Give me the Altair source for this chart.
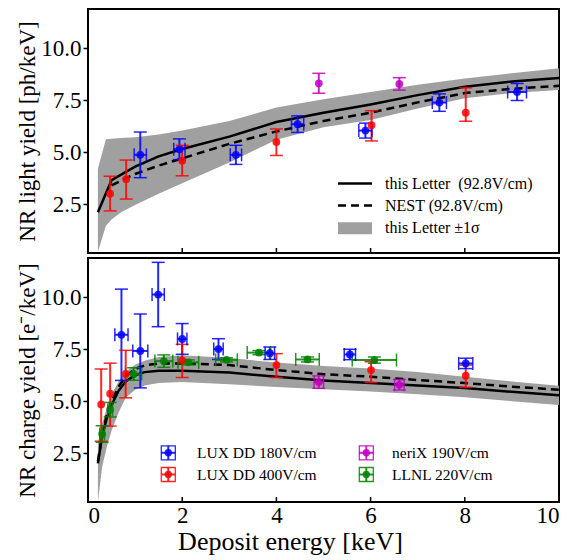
import altair as alt
import pandas as pd

FONT = "Liberation Serif"
W, H = 471, 244

SERIES = ["LUX DD 180V/cm", "LUX DD 400V/cm", "neriX 190V/cm", "LLNL 220V/cm"]
COLORS = ["#0000ff", "#ff0000", "#bf00bf", "#008000"]

# ---------------- top panel: light yield ----------------
top_line_x = [0.21, 0.5, 1.0, 1.5, 2, 3, 4, 5, 6, 7, 8, 9, 10]
top_line_y = [2.1, 3.65, 4.3, 4.8, 5.15, 5.75, 6.45, 6.9, 7.3, 7.75, 8.15, 8.4, 8.57]
top_nest_x = [0.5, 1.0, 1.5, 2, 3, 4, 5, 6, 7, 8, 9, 10]
top_nest_y = [3.4, 3.95, 4.35, 4.7, 5.4, 6.0, 6.5, 6.9, 7.4, 7.85, 8.05, 8.2]
top_band_x = [0.21, 0.38, 0.5, 0.7, 1, 1.5, 2, 3, 4, 5, 6, 7, 8, 9, 10]
top_band_hi = [4.2, 5.62, 5.65, 5.68, 5.72, 5.85, 6.05, 6.5, 7.15, 7.55, 7.9, 8.25, 8.55, 8.8, 9.05]
top_band_lo = [0.2, 1.45, 1.75, 2.1, 2.45, 3.0, 3.5, 4.5, 5.6, 6.2, 6.55, 7.1, 7.6, 7.85, 8.0]

top_lux180_x = [1.11, 1.94, 3.14, 4.45, 5.89, 7.46, 9.11]
top_lux180_y = [4.87, 5.14, 4.87, 6.35, 6.04, 7.39, 7.90]
top_lux180_yerr = [1.1, 0.5, 0.46, 0.4, 0.36, 0.42, 0.41]
top_lux180_xerr = [0.13, 0.12, 0.12, 0.13, 0.14, 0.15, 0.2]

top_lux400_x = [0.47, 0.81, 2.0, 4.0, 6.02, 8.02]
top_lux400_y = [3.0, 3.70, 4.59, 5.49, 6.30, 6.90]
top_lux400_ylo = [2.17, 2.74, 3.86, 4.84, 5.54, 6.49]
top_lux400_yhi = [3.84, 4.62, 5.33, 6.12, 7.0, 8.1]

top_nerix_x = [4.9, 6.61]
top_nerix_y = [8.32, 8.29]
top_nerix_yerr = [0.48, 0.3]

# ---------------- bottom panel: charge yield ----------------
bot_line_x = [0.21, 0.3, 0.4, 0.5, 0.65, 0.8, 1.0, 1.2, 1.5, 2, 3, 4, 5, 6, 7, 8, 9, 10]
bot_line_y = [2.0, 3.3, 4.2, 4.8, 5.5, 5.95, 6.25, 6.4, 6.47, 6.47, 6.38, 6.18, 6.0, 5.87, 5.75, 5.63, 5.45, 5.28]
bot_nest_y = [2.1, 3.4, 4.35, 5.0, 5.7, 6.2, 6.55, 6.72, 6.82, 6.82, 6.74, 6.5, 6.3, 6.18, 6.02, 5.87, 5.7, 5.55]
bot_band_hi = [3.0, 3.9, 4.7, 5.32, 5.95, 6.42, 6.75, 6.95, 7.13, 7.21, 7.08, 6.86, 6.7, 6.58, 6.4, 6.18, 5.95, 5.74]
bot_band_lo = [0.14, 1.83, 2.8, 3.57, 4.45, 5.16, 5.55, 5.75, 5.87, 5.92, 5.82, 5.68, 5.58, 5.47, 5.33, 5.19, 5.0, 4.81]

bot_lux180_x = [0.71, 1.11, 1.49, 2.0, 2.77, 3.86, 5.56, 8.02]
bot_lux180_y = [8.2, 7.42, 10.14, 8.0, 7.51, 7.31, 7.25, 6.82]
bot_lux180_yerr = [2.2, 1.78, 1.55, 0.74, 0.5, 0.3, 0.25, 0.25]
bot_lux180_xerr = [0.14, 0.16, 0.13, 0.1, 0.1, 0.1, 0.12, 0.15]

bot_lux400_x = [0.28, 0.47, 0.80, 2.0, 4.0, 6.01, 8.02]
bot_lux400_y = [4.84, 5.36, 6.31, 6.96, 6.74, 6.5, 6.23]
bot_lux400_ylo = [3.07, 3.8, 5.16, 6.14, 6.14, 5.9, 5.66]
bot_lux400_yhi = [6.55, 6.83, 7.45, 7.74, 7.29, 6.9, 6.74]

bot_nerix_x = [4.9, 6.61]
bot_nerix_y = [5.92, 5.79]
bot_nerix_yerr = [0.3, 0.25]
bot_nerix_xerr = [0.1, 0.1]

bot_llnl_x = [0.30, 0.47, 0.97, 1.61, 2.13, 2.94, 3.63, 4.66, 6.08]
bot_llnl_y = [3.42, 4.59, 6.31, 6.93, 6.87, 6.99, 7.34, 7.01, 6.98]
bot_llnl_yerr = [0.4, 0.35, 0.3, 0.3, 0.12, 0.1, 0.1, 0.12, 0.15]
bot_llnl_xerr = [0.05, 0.05, 0.17, 0.19, 0.22, 0.23, 0.25, 0.25, 0.47]

top_legend_labels = ["this Letter\u00a0 (92.8V/cm)", "NEST (92.8V/cm)", "this Letter \u00b11\u03c3"]
x_ticks = [0, 2, 4, 6, 8, 10]
y_ticks = [2.5, 5.0, 7.5, 10.0]
inner_ticks = [2, 4, 6, 8]
Y_DOMAIN = [0.14, 11.9]


def rows(series, xs, ys, ylo, yhi, xerr=None):
    out = []
    for i, x in enumerate(xs):
        xe = xerr[i] if xerr else 0.0
        out.append(dict(series=series, x=x, y=ys[i], ylo=ylo[i], yhi=yhi[i],
                        xlo=x - xe, xhi=x + xe))
    return out


def sym(ys, err):
    return [y - e for y, e in zip(ys, err)], [y + e for y, e in zip(ys, err)]


top_pts = []
lo, hi = sym(top_lux180_y, top_lux180_yerr)
top_pts += rows(SERIES[0], top_lux180_x, top_lux180_y, lo, hi, top_lux180_xerr)
top_pts += rows(SERIES[1], top_lux400_x, top_lux400_y, top_lux400_ylo, top_lux400_yhi)
lo, hi = sym(top_nerix_y, top_nerix_yerr)
top_pts += rows(SERIES[2], top_nerix_x, top_nerix_y, lo, hi)
top_pts = pd.DataFrame(top_pts)

bot_pts = []
lo, hi = sym(bot_lux180_y, bot_lux180_yerr)
bot_pts += rows(SERIES[0], bot_lux180_x, bot_lux180_y, lo, hi, bot_lux180_xerr)
bot_pts += rows(SERIES[1], bot_lux400_x, bot_lux400_y, bot_lux400_ylo, bot_lux400_yhi)
lo, hi = sym(bot_nerix_y, bot_nerix_yerr)
bot_pts += rows(SERIES[2], bot_nerix_x, bot_nerix_y, lo, hi, bot_nerix_xerr)
lo, hi = sym(bot_llnl_y, bot_llnl_yerr)
bot_pts += rows(SERIES[3], bot_llnl_x, bot_llnl_y, lo, hi, bot_llnl_xerr)
bot_pts = pd.DataFrame(bot_pts)

xscale = alt.Scale(domain=[0, 10], nice=False, zero=False)
yscale = alt.Scale(domain=Y_DOMAIN, nice=False, zero=False)
cscale = alt.Scale(domain=SERIES, range=COLORS)


def panel(pts, band_df, line_df, nest_df, ytitle, bottom):
    if bottom:
        xaxis = alt.Axis(values=x_ticks, format="d", ticks=False, tickSize=0, domain=False,
                         labelPadding=2, labelFont=FONT, labelFontSize=23,
                         title="Deposit energy [keV]", titleFont=FONT, titleX=202,
                         titleY=39, titleBaseline="middle", titleFontSize=26)
    else:
        xaxis = alt.Axis(labels=False, ticks=False, domain=False, title=None)
    yaxis = alt.Axis(values=y_ticks, format=".1f", tickSize=5, labelPadding=2, domain=False,
                     labelFont=FONT, labelFontSize=23,
                     title=ytitle, titleFont=FONT, titleX=-61, titleY=H / 2, titleAlign="center",
                     titleBaseline="middle", titleFontSize=23)
    X = lambda f: alt.X(f, type="quantitative", scale=xscale, axis=xaxis)
    Y = lambda f: alt.Y(f, type="quantitative", scale=yscale, axis=yaxis)

    band = alt.Chart(band_df).mark_area(color="#a0a0a0", clip=True).encode(
        x=X("x"), y=Y("lo"), y2="hi")
    solid = alt.Chart(line_df).mark_line(color="black", strokeWidth=2.5, clip=True).encode(
        x=X("x"), y=Y("y"))
    dashed = alt.Chart(nest_df).mark_line(color="black", strokeWidth=2.5, strokeDash=[8, 5],
                                          clip=True).encode(x=X("x"), y=Y("y"))
    ticks_in = alt.Chart(pd.DataFrame({"t": inner_ticks})).mark_rule(
        color="black", strokeWidth=1.5).encode(x=X("t"), y=alt.value(H - 5), y2=alt.value(H))

    col = alt.Color("series:N", scale=cscale, legend=None)
    base = alt.Chart(pts)
    op = 0.85
    yerr = base.mark_rule(strokeWidth=2, opacity=op).encode(x=X("x"), y=Y("ylo"), y2="yhi", color=col)
    ycap1 = base.mark_tick(orient="horizontal", size=13, thickness=1.5, opacity=op).encode(
        x=X("x"), y=Y("ylo"), color=col)
    ycap2 = base.mark_tick(orient="horizontal", size=13, thickness=1.5, opacity=op).encode(
        x=X("x"), y=Y("yhi"), color=col)
    xb = base.transform_filter("datum.xhi > datum.xlo")
    xerr = xb.mark_rule(strokeWidth=2, opacity=op).encode(x=X("xlo"), x2="xhi", y=Y("y"), color=col)
    xcap1 = xb.mark_tick(orient="vertical", size=13, thickness=1.5, opacity=op).encode(
        x=X("xlo"), y=Y("y"), color=col)
    xcap2 = xb.mark_tick(orient="vertical", size=13, thickness=1.5, opacity=op).encode(
        x=X("xhi"), y=Y("y"), color=col)
    dots = base.mark_circle(size=60, opacity=op).encode(x=X("x"), y=Y("y"), color=col)

    layers = [band, solid, dashed, ticks_in, yerr, ycap1, ycap2, xerr, xcap1, xcap2, dots]

    if not bottom:
        rows_y = [174.6, 196.6, 219.3]
        lx1, lx2, tx = 250, 284, 297
        layers.append(alt.Chart(pd.DataFrame({"a": [0]})).mark_rule(
            color="black", strokeWidth=2.5).encode(
            x=alt.value(lx1), x2=alt.value(lx2), y=alt.value(rows_y[0])))
        layers.append(alt.Chart(pd.DataFrame({"a": [0]})).mark_rule(
            color="black", strokeWidth=2.5, strokeDash=[8, 5]).encode(
            x=alt.value(lx1), x2=alt.value(lx2), y=alt.value(rows_y[1])))
        layers.append(alt.Chart(pd.DataFrame({"a": [0]})).mark_rect(color="#a0a0a0").encode(
            x=alt.value(lx1), x2=alt.value(lx2), y=alt.value(rows_y[2] - 6),
            y2=alt.value(rows_y[2] + 6)))
        for lab, yy in zip(top_legend_labels, rows_y):
            layers.append(alt.Chart(pd.DataFrame({"t": [lab]})).mark_text(
                font=FONT, fontSize=16, align="left", baseline="middle", color="black").encode(
                x=alt.value(tx), y=alt.value(yy), text="t:N"))
    else:
        pos = [(80.3, 194.8, 109), (80.3, 216.5, 109), (278.3, 194.8, 304), (278.3, 216.5, 304)]
        for s, c, (mx, my, tx) in zip(SERIES, COLORS, pos):
            d = pd.DataFrame({"t": [s]})
            layers.append(alt.Chart(d).mark_point(shape="square", filled=False, size=196,
                                                  strokeWidth=1.3, color=c, opacity=op).encode(
                x=alt.value(mx), y=alt.value(my)))
            layers.append(alt.Chart(d).mark_rule(color=c, strokeWidth=2, opacity=op).encode(
                x=alt.value(mx - 7), x2=alt.value(mx + 7), y=alt.value(my)))
            layers.append(alt.Chart(d).mark_rule(color=c, strokeWidth=2, opacity=op).encode(
                x=alt.value(mx), y=alt.value(my - 7), y2=alt.value(my + 7)))
            layers.append(alt.Chart(d).mark_point(shape="circle", filled=True, size=55,
                                                  color=c, opacity=op).encode(
                x=alt.value(mx), y=alt.value(my)))
            layers.append(alt.Chart(d).mark_text(font=FONT, fontSize=15.5, align="left",
                                                 baseline="middle", color="black").encode(
                x=alt.value(tx), y=alt.value(my), text="t:N"))

    return alt.layer(*layers).properties(width=W, height=H)


top = panel(top_pts,
            pd.DataFrame({"x": top_band_x, "lo": top_band_lo, "hi": top_band_hi}),
            pd.DataFrame({"x": top_line_x, "y": top_line_y}),
            pd.DataFrame({"x": top_nest_x, "y": top_nest_y}),
            "NR light yield [ph/keV]", False)
bot = panel(bot_pts,
            pd.DataFrame({"x": bot_line_x, "lo": bot_band_lo, "hi": bot_band_hi}),
            pd.DataFrame({"x": bot_line_x, "y": bot_line_y}),
            pd.DataFrame({"x": bot_line_x, "y": bot_nest_y}),
            "NR charge yield [e\u207b/keV]", True)

chart = alt.vconcat(top, bot, spacing=2).properties(
    padding={"left": 6, "top": 0, "right": 5, "bottom": 0}
).configure_view(stroke="black", strokeWidth=2).configure_axis(
    grid=False, labelFont=FONT, titleFont=FONT, labelFontSize=23,
    labelColor="black", titleColor="black", titleFontWeight="normal",
    tickColor="black", tickWidth=1.5
)

chart.save("out.html", embed_options={"renderer": "svg", "actions": False})
